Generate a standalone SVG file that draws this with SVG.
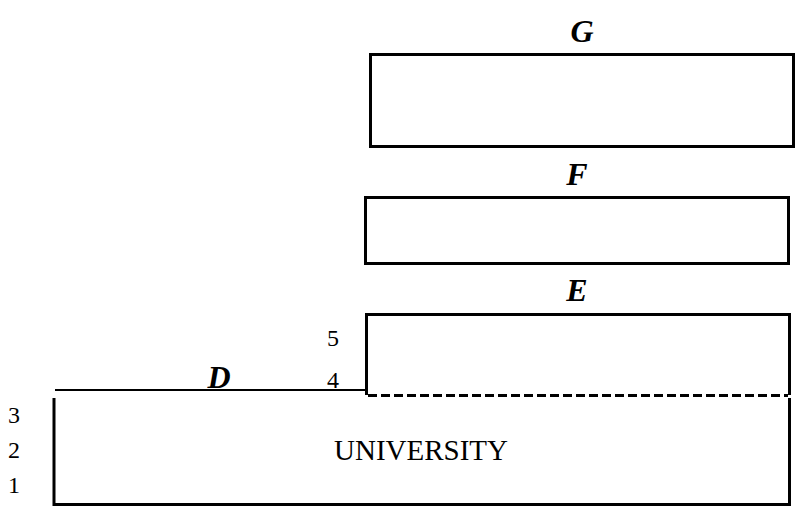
<svg xmlns="http://www.w3.org/2000/svg" width="799" height="508" viewBox="0 0 799 508">
  <style>
    .box { fill: none; stroke: #000; stroke-width: 3; }
    .edge { fill: none; stroke: #000; stroke-width: 3; }
    .thin { fill: none; stroke: #000; stroke-width: 2; }
    .dash { fill: none; stroke: #000; stroke-width: 3; stroke-dasharray: 9 4; }
    text { font-family: "Liberation Serif", "Times New Roman", Times, serif; fill: #000; }
    .lbl { font-weight: bold; font-style: italic; font-size: 32px; text-anchor: middle; }
    .num { font-size: 24px; }
    .name { font-size: 29px; text-anchor: middle; }
  </style>
  <rect width="799" height="508" fill="#fff"/>

  <!-- upper block G -->
  <g id="G">
    <rect class="box" x="370.5" y="54.5" width="423" height="92"/>
    <text class="lbl" x="582" y="42">G</text>
  </g>

  <!-- middle block F -->
  <g id="F">
    <rect class="box" x="365.5" y="197.5" width="423" height="66"/>
    <text class="lbl" x="577" y="185">F</text>
  </g>

  <!-- block E, open at the bottom (dashed edge) -->
  <g id="E">
    <path class="edge" d="M366.5 395 V314.5 H789.5 V395"/>
    <path class="dash" d="M368 395.5 H788"/>
    <text class="lbl" x="577" y="301">E</text>
    <text class="num" x="327" y="346">5</text>
    <text class="num" x="327" y="388">4</text>
  </g>

  <!-- level D line -->
  <g id="D">
    <path class="thin" d="M55 390 H366"/>
    <text class="lbl" x="219" y="388">D</text>
  </g>

  <!-- ground block -->
  <g id="UNIVERSITY">
    <path class="edge" d="M54 398 V504.5 H789.5 V398"/>
    <text class="name" x="421" y="460">UNIVERSITY</text>
    <text class="num" x="8" y="423">3</text>
    <text class="num" x="8" y="458">2</text>
    <text class="num" x="8" y="493">1</text>
  </g>

  <g id="connectors"/>
</svg>
